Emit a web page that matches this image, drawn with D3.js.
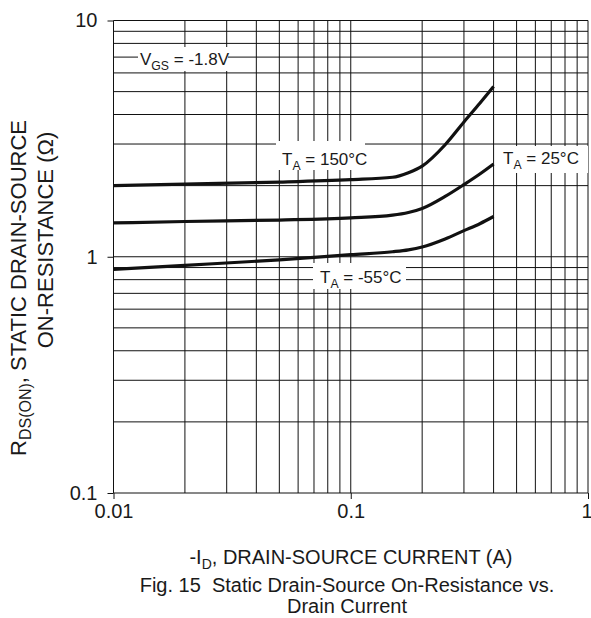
<!DOCTYPE html>
<html>
<head>
<meta charset="utf-8">
<script src="https://cdn.jsdelivr.net/npm/d3@7/dist/d3.min.js"></script>
<style>
  html, body { margin: 0; padding: 0; background: #fff; }
  svg { display: block; }
  text { font-family: "Liberation Sans", Arial, Helvetica, sans-serif; fill: #1a1a1a; }
</style>
</head>
<body>
<svg id="chart" width="591" height="618"></svg>
<script>
// Drain current (A) sample points and on-resistance (ohm) per ambient temperature
const currentA = [0.01, 0.02, 0.05, 0.1, 0.15, 0.175, 0.2, 0.25, 0.3, 0.35, 0.4];
const rds150 = [2.00, 2.03, 2.07, 2.12, 2.17, 2.27, 2.42, 2.98, 3.72, 4.46, 5.25];
const rds25  = [1.39, 1.41, 1.43, 1.46, 1.50, 1.54, 1.60, 1.80, 2.02, 2.24, 2.47];
const rdsM55 = [0.885, 0.92, 0.97, 1.02, 1.05, 1.07, 1.10, 1.19, 1.29, 1.38, 1.48];

const xTicks = [0.01, 0.1, 1];
const xTickLabels = ["0.01", "0.1", "1"];
const yTicks = [0.1, 1, 10];
const yTickLabels = ["0.1", "1", "10"];

const svg = d3.select("#chart");
const plotL = 113.5, plotR = 588, plotT = 20.5, plotB = 493;

const x = d3.scaleLog().domain([0.01, 1]).range([plotL, plotR]);
const y = d3.scaleLog().domain([0.1, 10]).range([plotB, plotT]);

// Log grid: every 1..9 multiple of each decade
function logGrid(lo, hi) {
  const out = [];
  for (let d = lo; d < hi * 0.999; d *= 10) {
    for (let m = 1; m <= 9; m++) out.push(d * m);
  }
  out.push(hi);
  return out;
}
const grid = svg.append("g").attr("stroke", "#111").attr("stroke-width", 1);
grid.selectAll("line.v").data(logGrid(0.01, 1)).join("line")
  .attr("class", "v")
  .attr("x1", d => x(d)).attr("x2", d => x(d))
  .attr("y1", plotT).attr("y2", plotB);
grid.selectAll("line.h").data(logGrid(0.1, 10)).join("line")
  .attr("class", "h")
  .attr("x1", plotL).attr("x2", plotR)
  .attr("y1", d => y(d)).attr("y2", d => y(d));

// Axes
const xAxis = svg.append("g")
  .attr("transform", `translate(0,${plotB})`)
  .call(d3.axisBottom(x).tickValues(xTicks).tickSize(6).tickPadding(5)
    .tickFormat((d, i) => xTickLabels[i]));
const yAxis = svg.append("g")
  .attr("transform", `translate(${plotL},0)`)
  .call(d3.axisLeft(y).tickValues(yTicks).tickSize(6).tickPadding(10)
    .tickFormat((d, i) => yTickLabels[i]));
[xAxis, yAxis].forEach(a => {
  a.select(".domain").remove();
  a.selectAll(".tick line").attr("stroke", "#111");
  a.selectAll(".tick text").attr("font-size", 20).attr("font-family", null).attr("fill", "#1a1a1a");
});
// keep the last x label inside the page edge
xAxis.selectAll(".tick text").filter(d => d === 1).attr("text-anchor", "end").attr("dx", 4);

// White boxes behind the in-plot annotations
const boxes = [
  { x0: 138, y0: 47, x1: 228, y1: 71 },
  { x0: 276, y0: 141, x1: 365, y1: 170 },
  { x0: 495, y0: 146, x1: 588, y1: 173 },
  { x0: 313, y0: 263, x1: 406, y1: 289 }
];
svg.append("g").selectAll("rect").data(boxes).join("rect")
  .attr("x", d => d.x0).attr("y", d => d.y0)
  .attr("width", d => d.x1 - d.x0).attr("height", d => d.y1 - d.y0)
  .attr("fill", "#fff");

// Curves
const line = d3.line()
  .x(d => x(d[0])).y(d => y(d[1]))
  .curve(d3.curveMonotoneX);
const series = [rds150, rds25, rdsM55];
svg.append("g").selectAll("path").data(series).join("path")
  .attr("d", s => line(currentA.map((c, i) => [c, s[i]])))
  .attr("fill", "none").attr("stroke", "#111")
  .attr("stroke-width", 3.2).attr("stroke-linecap", "butt");

// Annotation text with subscripts
function subLabel(xp, yp, main, sub, rest, size) {
  const t = svg.append("text").attr("x", xp).attr("y", yp).attr("font-size", size);
  t.append("tspan").text(main);
  t.append("tspan").attr("dy", size * 0.3).attr("font-size", size * 0.72).text(sub);
  t.append("tspan").attr("dy", -size * 0.3).text(rest);
  return t;
}
subLabel(140, 65, "V", "GS", " = -1.8V", 17);
subLabel(282, 165, "T", "A", " = 150°C", 17);
subLabel(503, 164, "T", "A", " = 25°C", 17);
subLabel(320, 283, "T", "A", " = -55°C", 17);

// Axis titles
const xt = svg.append("text").attr("x", 351).attr("y", 564)
  .attr("text-anchor", "middle").attr("font-size", 20);
xt.append("tspan").text("-I");
xt.append("tspan").attr("dy", 5).attr("font-size", 14).text("D");
xt.append("tspan").attr("dy", -5).text(", DRAIN-SOURCE CURRENT (A)");

svg.append("text").attr("x", 347).attr("y", 592)
  .attr("text-anchor", "middle").attr("font-size", 20)
  .attr("xml:space", "preserve")
  .text("Fig. 15  Static Drain-Source On-Resistance vs.");
svg.append("text").attr("x", 347).attr("y", 613)
  .attr("text-anchor", "middle").attr("font-size", 20)
  .text("Drain Current");

const yt1 = svg.append("text")
  .attr("transform", "translate(26,288) rotate(-90)")
  .attr("text-anchor", "middle").attr("font-size", 22);
yt1.append("tspan").text("R");
yt1.append("tspan").attr("dy", 5).attr("font-size", 16).text("DS(ON)");
yt1.append("tspan").attr("dy", -5).text(", STATIC DRAIN-SOURCE");

svg.append("text")
  .attr("transform", "translate(53,240) rotate(-90)")
  .attr("text-anchor", "middle").attr("font-size", 22)
  .text("ON-RESISTANCE (Ω)");
</script>
</body>
</html>
